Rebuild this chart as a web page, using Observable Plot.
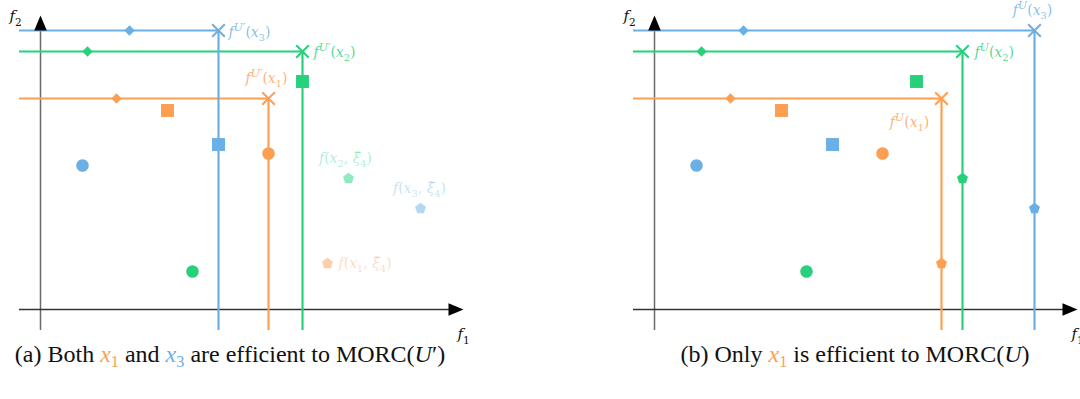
<!DOCTYPE html>
<html>
<head>
<meta charset="utf-8">
<script src="https://cdn.jsdelivr.net/npm/d3@7"></script>
<script src="https://cdn.jsdelivr.net/npm/@observablehq/plot@0.6"></script>
<style>
  html, body { margin: 0; padding: 0; background: #fff; }
  #wrap { position: relative; width: 1080px; height: 399px; overflow: hidden; }
  .panel { position: absolute; top: 0; }
  .cap { position: absolute; top: 339px; width: 600px; text-align: center;
         font-family: "Liberation Serif", serif; font-size: 24px; line-height: 30px; color: #111; white-space: nowrap; }
  .cap i { font-style: italic; }
  .cap sub { font-size: 0.68em; font-style: normal; vertical-align: -0.28em; line-height: 0; }
</style>
</head>
<body>
<div id="wrap"></div>
<script>
// ---------- data (f1, f2 in arbitrary units) ----------
const series   = ["x1", "x2", "x3"];
const colors   = ["#fe9e51", "#27d17c", "#6aafe6"];
const circleF1 = [22.8, 15.2, 4.2];
const circleF2 = [15.6, 3.8, 14.4];
const squareF1 = [12.7, 26.2, 17.8];
const squareF2 = [19.9, 22.8, 16.5];
const diamondF1 = [7.6, 4.7, 8.9];
const diamondF2 = [21.1, 25.8, 27.9];
const pentF1   = [28.7, 30.8, 38.0];
const pentF2   = [4.6, 13.1, 10.1];
// worst-case points f^{U'}(x) (panel a) and f^{U}(x) (panel b)
const worstA_F1 = [22.8, 26.2, 17.8];
const worstA_F2 = [21.1, 25.8, 27.9];
const worstB_F1 = [28.7, 30.8, 38.0];
const worstB_F2 = [21.1, 25.8, 27.9];
const labelsA = ["f^{U′}(x_{1})", "f^{U′}(x_{2})", "f^{U′}(x_{3})"];
const labelsB = ["f^{U}(x_{1})", "f^{U}(x_{2})", "f^{U}(x_{3})"];
const pentLabels = ["f(x_{1}, ξ\u0303_{4})", "f(x_{2}, ξ\u0303_{4})", "f(x_{3}, ξ\u0303_{4})"];
const axisLabels = ["f_{1}", "f_{2}"];

// ---------- layout constants ----------
const H = 345, PX = 10;           // px per unit
const axisMin = -2.1, xArrow = 41.3, yArrow = 28.4;
const mathFont = "DejaVu Serif, serif";

const pentagon = {
  draw(ctx, size) {
    const r = Math.sqrt(size / Math.PI) * 1.1;
    for (let i = 0; i < 5; i++) {
      const a = -Math.PI / 2 + i * 2 * Math.PI / 5;
      const x = r * Math.cos(a), y = r * Math.sin(a);
      i ? ctx.lineTo(x, y) : ctx.moveTo(x, y);
    }
    ctx.closePath();
  }
};
// latex-style arrow head pointing up (tip 10px above centre, base 5px below)
const arrowHead = {
  draw(ctx) {
    ctx.moveTo(0, -10);
    ctx.lineTo(6.3, 5);
    ctx.lineTo(-6.3, 5);
    ctx.closePath();
  }
};

function rowsFor(wf1, wf2, labels) {
  return series.map((s, i) => ({
    s, cf1: circleF1[i], cf2: circleF2[i], sf1: squareF1[i], sf2: squareF2[i],
    df1: diamondF1[i], df2: diamondF2[i], pf1: pentF1[i], pf2: pentF2[i],
    wf1: wf1[i], wf2: wf2[i], label: labels[i], plabel: pentLabels[i]
  }));
}

function panel(width, wf1, wf2, labels, faded, labelOffsets) {
  const rows = rowsFor(wf1, wf2, labels);
  const txt = (i, o) => Plot.text([rows[i]], {x: "wf1", y: "wf2", text: "label", fill: "s",
      fillOpacity: 0.8, fontSize: 14, fontFamily: mathFont, ...o});
  const ptxt = (i, o) => Plot.text([rows[i]], {x: "pf1", y: "pf2", text: "plabel", fill: "s",
      fillOpacity: 0.38, fontSize: 14, fontFamily: mathFont, ...o});
  const marks = [
    Plot.ruleX([0], {y1: axisMin, y2: yArrow, stroke: "#6a6a6a", strokeWidth: 1.5}),
    Plot.ruleY([0], {x1: axisMin, x2: xArrow, stroke: "#333", strokeWidth: 1.5}),
    Plot.ruleY(rows, {y: "wf2", x1: axisMin, x2: "wf1", stroke: "s", strokeWidth: 2.2}),
    Plot.ruleX(rows, {x: "wf1", y1: axisMin, y2: "wf2", stroke: "s", strokeWidth: 2.2}),
    Plot.dot(rows, {x: "cf1", y: "cf2", fill: "s", r: 6.3, symbol: "circle"}),
    Plot.dot(rows, {x: "sf1", y: "sf2", fill: "s", r: 7.3, symbol: "square"}),
    Plot.dot(rows, {x: "df1", y: "df2", fill: "s", r: 4.7, symbol: "diamond2"}),
    Plot.dot(rows, {x: "pf1", y: "pf2", fill: "s", r: 5.2, symbol: pentagon, fillOpacity: faded ? 0.5 : 1}),
    Plot.dot(rows, {x: "wf1", y: "wf2", stroke: "s", fill: "none", r: 5.8, strokeWidth: 2, symbol: "times"}),
    Plot.dot([{x: 0, y: yArrow}], {x: "x", y: "y", symbol: arrowHead, r: 5, fill: "black"}),
    Plot.dot([{x: xArrow, y: 0}], {x: "x", y: "y", symbol: arrowHead, r: 5, fill: "black", rotate: 90}),
    Plot.text([axisLabels[1]], {x: -2.5, y: 29.3, text: d => d, fill: "#111", fontSize: 15, fontFamily: mathFont}),
    Plot.text([axisLabels[0]], {x: 42.3, y: -2.5, text: d => d, fill: "#111", fontSize: 15, fontFamily: mathFont}),
    ...labelOffsets.map((o, i) => txt(i, o))
  ];
  if (faded) {
    marks.push(ptxt(0, {textAnchor: "start", dx: 11, dy: 0}));
    marks.push(ptxt(1, {dx: -3, dy: -20}));
    marks.push(ptxt(2, {dx: -1, dy: -20}));
  }
  return Plot.plot({
    width, height: H, margin: 0,
    x: {domain: [-4, width / PX - 4], axis: null},
    y: {domain: [(309 - H) / PX, 309 / PX], axis: null},
    color: {domain: series, range: colors},
    style: {background: "transparent", overflow: "visible"},
    marks
  });
}

// turn simple markup (^{..}, _{..}) into tspans
function mathify(svg) {
  const NS = "http://www.w3.org/2000/svg";
  svg.querySelectorAll("text").forEach(t => {
    const src = t.textContent;
    if (!/[_^]\{/.test(src)) return;
    const g = t.parentNode;
    const fs = parseFloat(g.getAttribute("font-size")) || 14;
    t.style.fontSize = fs + "px";
    t.style.fontFamily = mathFont;
    const segs = [];
    let i = 0;
    while (i < src.length) {
      if ((src[i] === "^" || src[i] === "_") && src[i + 1] === "{") {
        const j = src.indexOf("}", i);
        segs.push({t: src.slice(i + 2, j), sh: src[i] === "^" ? -0.42 * fs : 0.28 * fs, sup: src[i] === "^"});
        i = j + 1;
      } else {
        let j = i;
        while (j < src.length && !((src[j] === "^" || src[j] === "_") && src[j + 1] === "{")) j++;
        segs.push({t: src.slice(i, j), sh: 0});
        i = j;
      }
    }
    t.textContent = "";
    let cur = 0;
    for (const seg of segs) {
      const runs = seg.t.match(/([A-Za-zξ\u0303]+|[^A-Za-zξ\u0303]+)/gu) || [];
      runs.forEach((r, k) => {
        const ts = document.createElementNS(NS, "tspan");
        ts.textContent = r;
        const ital = /[A-Za-zξ]/u.test(r);
        ts.style.fontStyle = ital ? "italic" : "normal";
        ts.style.fontSize = (seg.sh !== 0 ? fs * (seg.sup ? 0.78 : 0.7) : fs) + "px";
        if (k === 0 && seg.sh !== cur) { ts.setAttribute("dy", seg.sh - cur); cur = seg.sh; }
        t.appendChild(ts);
      });
    }
  });
}

const wrap = document.getElementById("wrap");
const a = panel(540, worstA_F1, worstA_F2, labelsA, true, [
  {dx: -2, dy: -20},
  {textAnchor: "start", dx: 11, dy: 1},
  {textAnchor: "start", dx: 10, dy: 2}
]);
const b = panel(466, worstB_F1, worstB_F2, labelsB, false, [
  {dx: -32, dy: 24},
  {textAnchor: "start", dx: 12, dy: 1},
  {dx: -2, dy: -20}
]);
a.classList.add("panel"); a.style.left = "0px";
b.classList.add("panel"); b.style.left = "614px";
wrap.appendChild(a); wrap.appendChild(b);
mathify(a); mathify(b);

const capA = document.createElement("div");
capA.className = "cap"; capA.style.left = (230 - 300) + "px";
capA.innerHTML = `(a) Both <i style="color:${colors[0]}">x<sub>1</sub></i> and <i style="color:${colors[2]}">x<sub>3</sub></i> are efficient to MORC(<i>U</i>′)`;
const capB = document.createElement("div");
capB.className = "cap"; capB.style.left = (855 - 300) + "px";
capB.innerHTML = `(b) Only <i style="color:${colors[0]}">x<sub>1</sub></i> is efficient to MORC(<i>U</i>)`;
wrap.appendChild(capA); wrap.appendChild(capB);
</script>
</body>
</html>
